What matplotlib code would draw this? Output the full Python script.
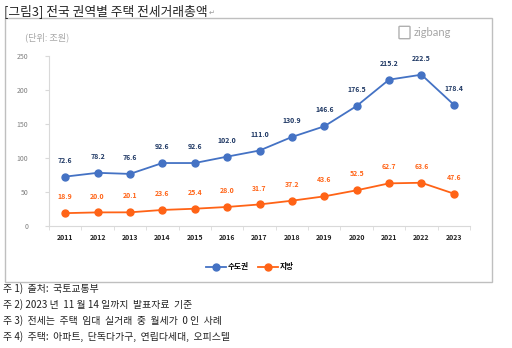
import matplotlib.pyplot as plt
from matplotlib.patches import Rectangle, FancyBboxPatch

plt.rcParams['font.family'] = ['Noto Sans CJK KR', 'DejaVu Sans']

years = [2011, 2012, 2013, 2014, 2015, 2016, 2017, 2018, 2019, 2020, 2021, 2022, 2023]
capital = [72.6, 78.2, 76.6, 92.6, 92.6, 102.0, 111.0, 130.9, 146.6, 176.5, 215.2, 222.5, 178.4]
local = [18.9, 20.0, 20.1, 23.6, 25.4, 28.0, 31.7, 37.2, 43.6, 52.5, 62.7, 63.6, 47.6]
series_names = ["수도권", "지방"]

notes = [
    "주 1)  출처:  국토교통부",
    "주 2) 2023 년  11 월 14 일까지  발표자료  기준",
    "주 3)  전세는  주택  임대  실거래  중  월세가  0 인  사례",
    "주 4)  주택:  아파트,  단독다가구,  연립다세대,  오피스텔",
]

W, H = 512, 348
fig = plt.figure(figsize=(W / 100, H / 100), dpi=100)

def fx(px):
    return px / W

def fy(py):
    return 1 - py / H

# chart frame
fig.patches.append(Rectangle((fx(5), fy(282)), fx(492) - fx(5), fy(18) - fy(282),
                             transform=fig.transFigure, fill=False,
                             edgecolor="#bfbfbf", linewidth=1.0))

fig.text(fx(4), fy(11), "[그림3] 전국 권역별 주택 전세거래총액", fontsize=9.2,
         color="#222222", va="center", ha="left")
fig.text(fx(209), fy(13), "↵", fontsize=5, color="#999999", va="center",
         family=['DejaVu Sans'])

fig.text(fx(25), fy(37), "(단위: 조원)", fontsize=6.6, color="#a6a6a6",
         style="italic", va="center")

# zigbang mark
fig.patches.append(FancyBboxPatch((fx(400), fy(38)), fx(9) - fx(0), fy(27) - fy(38),
                                  boxstyle="round,pad=0.002", transform=fig.transFigure,
                                  fill=False, edgecolor="#b0b0b0", linewidth=1.0))
fig.text(fx(414), fy(32), "zigbang", fontsize=8, color="#a6a6a6", va="center",
         family=['Lato', 'DejaVu Sans'])

ax = fig.add_axes([fx(49), fy(226), fx(470) - fx(49), fy(56) - fy(226)])
x = list(range(len(years)))

blue = "#4472C4"
orange = "#FF6316"
ax.plot(x, capital, color=blue, marker="o", markersize=5, linewidth=1.3, label=series_names[0])
ax.plot(x, local, color=orange, marker="o", markersize=5, linewidth=1.3, label=series_names[1])

for i, v in enumerate(capital):
    ax.annotate(f"{v:.1f}", (i, v), xytext=(0, 10), textcoords="offset points",
                ha="center", fontsize=5, fontweight="bold", color="#1f3864")
for i, v in enumerate(local):
    ax.annotate(f"{v:.1f}", (i, v), xytext=(0, 10), textcoords="offset points",
                ha="center", fontsize=5, fontweight="bold", color=orange)

ax.set_xlim(-0.5, len(years) - 0.5)
ax.set_ylim(0, 250)
ax.set_yticks([0, 50, 100, 150, 200, 250])
ax.set_xticks(x)
ax.set_xticklabels([str(y) for y in years], fontsize=5, fontweight="bold", color="#222222")
ax.set_xticks([i - 0.5 for i in range(len(years) + 1)], minor=True)
ax.tick_params(axis="x", which="major", length=0, pad=6)
ax.tick_params(axis="x", which="minor", length=3, color="#d9d9d9")
ax.tick_params(axis="y", labelsize=5, colors="#7f7f7f", length=3, pad=12)
for lbl in ax.get_yticklabels():
    lbl.set_ha("right")
ax.tick_params(axis="y", color="#d9d9d9")

for s in ["top", "right"]:
    ax.spines[s].set_visible(False)
ax.spines["left"].set_color("#d9d9d9")
ax.spines["bottom"].set_color("#d9d9d9")

fig.legend(loc="center", bbox_to_anchor=(fx(250), fy(267)), ncol=2, frameon=False,
           handlelength=2.6, columnspacing=1.2, handletextpad=0.3,
           prop={"weight": "bold", "size": 5.5})

for i, t in enumerate(notes):
    fig.text(fx(3), fy(289 + 16 * i), t, fontsize=7.1, color="#222222", va="center")

fig.savefig("out.png", dpi=100)
